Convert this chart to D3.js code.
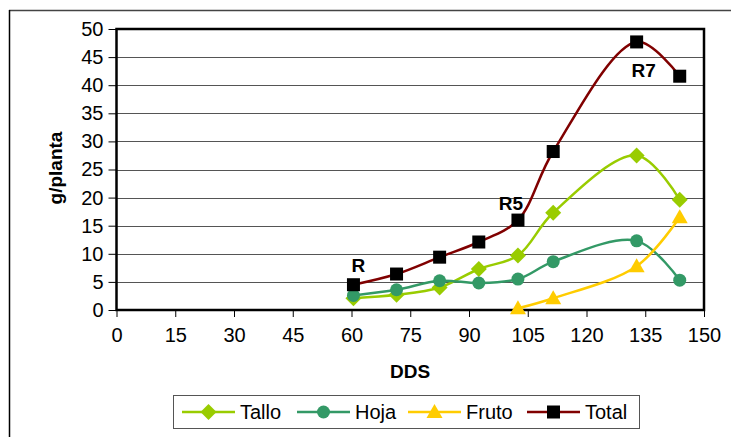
<!DOCTYPE html>
<html>
<head>
<meta charset="utf-8">
<script src="https://cdn.jsdelivr.net/npm/d3@7"></script>
<style>
  html, body { margin: 0; padding: 0; background: #fff; }
  svg { display: block; font-family: "Liberation Sans", Arial, sans-serif; }
</style>
</head>
<body>
<svg id="chart" width="731" height="437"></svg>
<script>
// Days after sowing (DDS) for each sampling
const days = [60.5, 71.5, 82.5, 92.5, 102.5, 111.5, 132.8, 143.8];
// Dry matter, g per plant
const tallo = [2.1, 2.7, 4.0, 7.3, 9.7, 17.3, 27.5, 19.6];
const hoja  = [2.6, 3.6, 5.2, 4.8, 5.5, 8.6, 12.3, 5.3];
const frutoDays = [102.5, 111.5, 132.8, 143.8];
const fruto = [0.3, 2.1, 7.8, 16.5];
const total = [4.5, 6.4, 9.4, 12.1, 16.0, 28.2, 47.7, 41.6];
// Phenological stage labels attached to Total points (index)
const stages = [{ text: "R", i: 0, dx: 5, dy: -13 },
                { text: "R5", i: 4, dx: -7, dy: -10 },
                { text: "R7", i: 6, dx: 7, dy: 35 }];
const xTicks = d3.range(0, 151, 15);
const yTicks = d3.range(0, 51, 5);

const svg = d3.select("#chart");

// outer chart frame (top and left edges visible)
svg.append("line").attr("x1", 9).attr("x2", 731).attr("y1", 10.5).attr("y2", 10.5)
  .attr("stroke", "#444").attr("stroke-width", 1.5);
svg.append("line").attr("x1", 9.5).attr("x2", 9.5).attr("y1", 10).attr("y2", 437)
  .attr("stroke", "#000").attr("stroke-width", 1.5);

const x = d3.scaleLinear().domain([0, 150]).range([116.5, 704]);
const y = d3.scaleLinear().domain([0, 50]).range([310, 29]);

// gridlines
svg.append("g").selectAll("line").data(yTicks.filter(v => v > 0 && v < 50)).join("line")
  .attr("x1", x(0)).attr("x2", x(150))
  .attr("y1", d => Math.round(y(d)) + 0.5).attr("y2", d => Math.round(y(d)) + 0.5)
  .attr("stroke", "#555").attr("stroke-width", 1);

// axes
const yAxis = d3.axisLeft(y).tickValues(yTicks).tickSize(8).tickPadding(5);
const gy = svg.append("g").attr("transform", `translate(${x(0)},0)`).call(yAxis);
const xAxis = d3.axisBottom(x).tickValues(xTicks).tickSize(7).tickPadding(11);
const gx = svg.append("g").attr("transform", `translate(0,${y(0)})`).call(xAxis);
[gx, gy].forEach(g => {
  g.select(".domain").remove();
  g.selectAll(".tick line").attr("stroke", "#000").attr("stroke-width", 1);
  g.selectAll(".tick text").attr("fill", "#000")
    .style("font-size", "20px").style("font-family", "'Liberation Sans', Arial, sans-serif");
});

// plot border
svg.append("rect").attr("x", x(0)).attr("y", y(50))
  .attr("width", x(150) - x(0)).attr("height", y(0) - y(50))
  .attr("fill", "none").attr("stroke", "#000").attr("stroke-width", 2.5);

// axis titles
svg.append("text").attr("x", 410).attr("y", 378).attr("text-anchor", "middle")
  .style("font-size", "19px").style("font-weight", "bold").text("DDS");
svg.append("text").attr("transform", "translate(62,168) rotate(-90)").attr("text-anchor", "middle")
  .style("font-size", "19px").style("font-weight", "bold").text("g/planta");

const line = d3.line().x(d => x(d[0])).y(d => y(d[1])).curve(d3.curveCatmullRom.alpha(0.5));
const pairs = (xs, ys) => xs.map((d, i) => [d, ys[i]]);

const series = [
  { name: "Tallo", color: "#99CC00", marker: "diamond", pts: pairs(days, tallo) },
  { name: "Hoja",  color: "#339966", marker: "circle",  pts: pairs(days, hoja) },
  { name: "Fruto", color: "#FFCC00", marker: "triangle", pts: pairs(frutoDays, fruto) },
  { name: "Total", color: "#800000", marker: "square",  pts: pairs(days, total), fillMark: "#000" }
];

function drawMarker(g, type, cx, cy, fill) {
  if (type === "diamond") {
    g.append("path").attr("d", `M${cx},${cy - 8}L${cx + 8},${cy}L${cx},${cy + 8}L${cx - 8},${cy}Z`).attr("fill", fill);
  } else if (type === "circle") {
    g.append("circle").attr("cx", cx).attr("cy", cy).attr("r", 6.5).attr("fill", fill);
  } else if (type === "triangle") {
    g.append("path").attr("d", `M${cx},${cy - 8}L${cx + 8},${cy + 6}L${cx - 8},${cy + 6}Z`).attr("fill", fill);
  } else {
    g.append("rect").attr("x", cx - 6.5).attr("y", cy - 6.5).attr("width", 13).attr("height", 13).attr("fill", fill);
  }
}

series.forEach(s => {
  const g = svg.append("g");
  g.append("path").attr("d", line(s.pts)).attr("fill", "none")
    .attr("stroke", s.color).attr("stroke-width", 2.5);
  s.pts.forEach(p => drawMarker(g, s.marker, x(p[0]), y(p[1]), s.fillMark || s.color));
});

// stage labels
stages.forEach(st => {
  svg.append("text").attr("x", x(days[st.i]) + st.dx).attr("y", y(total[st.i]) + st.dy)
    .attr("text-anchor", "middle").style("font-size", "19px").style("font-weight", "bold")
    .text(st.text);
});

// legend
const lg = svg.append("g");
lg.append("rect").attr("x", 173.5).attr("y", 395.5).attr("width", 466).attr("height", 33)
  .attr("fill", "#fff").attr("stroke", "#555").attr("stroke-width", 1);
const legendX = [182, 297, 408, 527];
series.forEach((s, i) => {
  const lx = legendX[i], ly = 412;
  lg.append("line").attr("x1", lx).attr("x2", lx + 53).attr("y1", ly).attr("y2", ly)
    .attr("stroke", s.color).attr("stroke-width", 2.5);
  drawMarker(lg, s.marker, lx + 26.5, ly, s.fillMark || s.color);
  lg.append("text").attr("x", lx + 58).attr("y", ly + 7).style("font-size", "20px").text(s.name);
});
</script>
</body>
</html>
